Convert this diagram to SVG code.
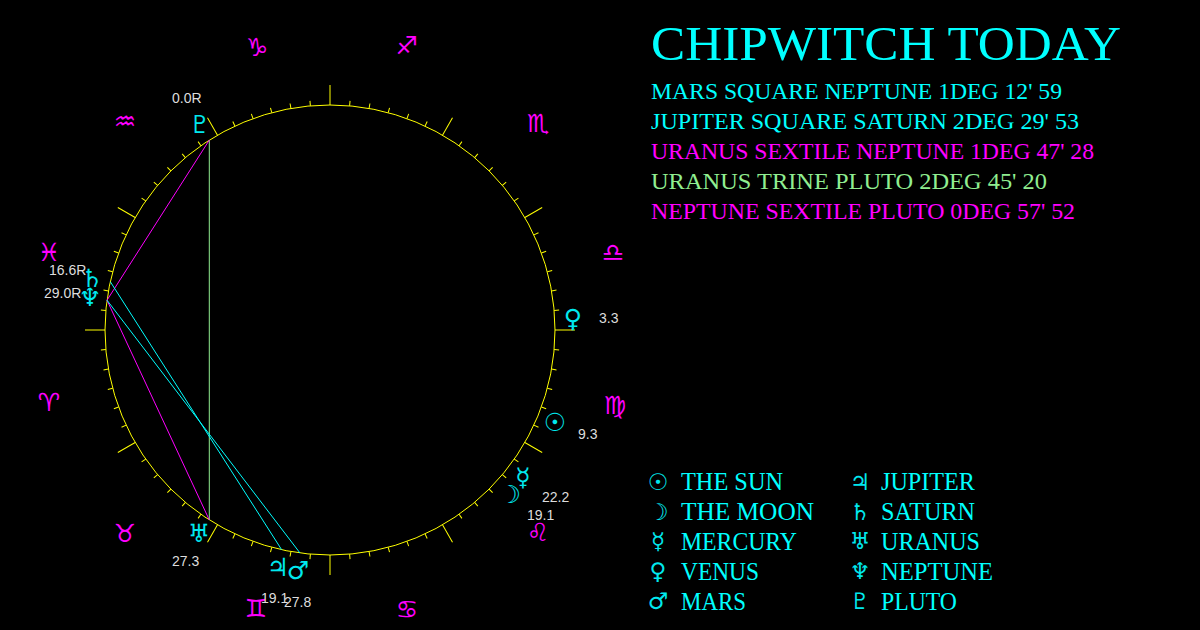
<svg xmlns="http://www.w3.org/2000/svg" xmlns:xlink="http://www.w3.org/1999/xlink" width="1200" height="630" viewBox="0 0 1200 630">
<style>
.wheel{fill:none;stroke:#ffff00;stroke-width:1}
.tick{stroke:#ffff00;stroke-width:1}
.sign{font-family:"DejaVu Sans",sans-serif;font-size:25px;fill:#ff00ff;text-anchor:middle;dominant-baseline:central}
.pl{font-family:"DejaVu Sans",sans-serif;font-size:25px;fill:#00e8ee;text-anchor:middle;dominant-baseline:central}
.deg{font-family:"Liberation Sans",Arial,sans-serif;font-size:14px;fill:#dddddd}
.title{font-family:"Liberation Serif","Times New Roman",serif;font-size:48px;fill:#00ffff}
.asp{font-family:"Liberation Serif","Times New Roman",serif;font-size:23px}
.key{font-family:"Liberation Serif","Times New Roman",serif;font-size:25px;fill:#00ffff}
.keysym{font-family:"DejaVu Sans",sans-serif;font-size:23px;fill:#00e8ee;text-anchor:middle;dominant-baseline:central}
.cy{fill:#00ffff}.mg{fill:#ff00ff}.gr{fill:#90ee90}
.lc{stroke:#00ffff;stroke-width:1}.lm{stroke:#ff00ff;stroke-width:1}.lg{stroke:#90ee90;stroke-width:1}
</style>
<defs>
<g id="seg">
<line class="tick" x1="330" y1="105" x2="330" y2="85"/>
<line class="tick" x1="330" y1="105" x2="330" y2="100" transform="rotate(5 330 330)"/>
<line class="tick" x1="330" y1="105" x2="330" y2="100" transform="rotate(10 330 330)"/>
<line class="tick" x1="330" y1="105" x2="330" y2="100" transform="rotate(15 330 330)"/>
<line class="tick" x1="330" y1="105" x2="330" y2="100" transform="rotate(20 330 330)"/>
<line class="tick" x1="330" y1="105" x2="330" y2="100" transform="rotate(25 330 330)"/>
</g>
</defs>
<rect x="0" y="0" width="1200" height="630" fill="#000000"/>
<g id="wheel">
<circle class="wheel" cx="330" cy="330" r="225"/>
<use xlink:href="#seg"/>
<use xlink:href="#seg" transform="rotate(30 330 330)"/>
<use xlink:href="#seg" transform="rotate(60 330 330)"/>
<use xlink:href="#seg" transform="rotate(90 330 330)"/>
<use xlink:href="#seg" transform="rotate(120 330 330)"/>
<use xlink:href="#seg" transform="rotate(150 330 330)"/>
<use xlink:href="#seg" transform="rotate(180 330 330)"/>
<use xlink:href="#seg" transform="rotate(210 330 330)"/>
<use xlink:href="#seg" transform="rotate(240 330 330)"/>
<use xlink:href="#seg" transform="rotate(270 330 330)"/>
<use xlink:href="#seg" transform="rotate(300 330 330)"/>
<use xlink:href="#seg" transform="rotate(330 330 330)"/>
</g>
<g id="signs">
<text class="sign" x="407" y="45">♐&#xFE0E;</text>
<text class="sign" x="538" y="123">♏&#xFE0E;</text>
<text class="sign" x="613" y="252">♎&#xFE0E;</text>
<text class="sign" x="615" y="405">♍&#xFE0E;</text>
<text class="sign" x="538" y="532">♌&#xFE0E;</text>
<text class="sign" x="407" y="609">♋&#xFE0E;</text>
<text class="sign" x="256" y="608">♊&#xFE0E;</text>
<text class="sign" x="125" y="533">♉&#xFE0E;</text>
<text class="sign" x="49" y="402">♈&#xFE0E;</text>
<text class="sign" x="49" y="252">♓&#xFE0E;</text>
<text class="sign" x="125" y="121">♒&#xFE0E;</text>
<text class="sign" x="257" y="47">♑&#xFE0E;</text>
</g>
<g id="connectors">
<line class="lg" x1="209.3" y1="140.1" x2="209.3" y2="519.9"/>
<line class="lm" x1="209.3" y1="140.1" x2="107" y2="300.2"/>
<line class="lm" x1="209.3" y1="519.9" x2="107" y2="300.2"/>
<line class="lc" x1="300" y1="553" x2="107" y2="300.2"/>
<line class="lc" x1="281.7" y1="549.8" x2="110.3" y2="281.7"/>
</g>
<g id="planet-pluto"><text class="pl" x="200" y="124">♇</text><text class="deg" x="172" y="103">0.0R</text></g>
<g id="planet-saturn"><text class="pl" x="92" y="278">♄</text><text class="deg" x="49" y="275">16.6R</text></g>
<g id="planet-neptune"><text class="pl" x="90" y="297">♆</text><text class="deg" x="44" y="298">29.0R</text></g>
<g id="planet-venus"><text class="pl" x="573" y="318">♀</text><text class="deg" x="599" y="323">3.3</text></g>
<g id="planet-sun"><text class="pl" x="555" y="422">☉</text><text class="deg" x="578" y="439">9.3</text></g>
<g id="planet-mercury"><text class="pl" x="523" y="477">☿</text><text class="deg" x="542" y="502">22.2</text></g>
<g id="planet-moon"><text class="pl" x="510" y="494">☽</text><text class="deg" x="527" y="520">19.1</text></g>
<g id="planet-uranus"><text class="pl" x="199" y="533">♅</text><text class="deg" x="172" y="566">27.3</text></g>
<g id="planet-jupiter"><text class="pl" x="278" y="567">♃</text><text class="deg" x="261" y="603">19.1</text></g>
<g id="planet-mars"><text class="pl" x="298" y="570">♂</text><text class="deg" x="284" y="607">27.8</text></g>
<g id="title"><text class="title" x="651" y="60" textLength="470" lengthAdjust="spacingAndGlyphs">CHIPWITCH TODAY</text></g>
<g id="aspects">
<text class="asp cy" x="651" y="99" textLength="411" lengthAdjust="spacingAndGlyphs">MARS SQUARE NEPTUNE 1DEG 12' 59</text>
<text class="asp cy" x="651" y="129" textLength="428" lengthAdjust="spacingAndGlyphs">JUPITER SQUARE SATURN 2DEG 29' 53</text>
<text class="asp mg" x="651" y="159" textLength="443" lengthAdjust="spacingAndGlyphs">URANUS SEXTILE NEPTUNE 1DEG 47' 28</text>
<text class="asp gr" x="651" y="189" textLength="396" lengthAdjust="spacingAndGlyphs">URANUS TRINE PLUTO 2DEG 45' 20</text>
<text class="asp mg" x="651" y="219" textLength="424" lengthAdjust="spacingAndGlyphs">NEPTUNE SEXTILE PLUTO 0DEG 57' 52</text>
</g>
<g id="legend">
<text class="keysym" x="658" y="482">☉</text><text class="key" x="681" y="490" textLength="102" lengthAdjust="spacingAndGlyphs">THE SUN</text>
<text class="keysym" x="658" y="512">☽</text><text class="key" x="681" y="520" textLength="133" lengthAdjust="spacingAndGlyphs">THE MOON</text>
<text class="keysym" x="658" y="541">☿</text><text class="key" x="681" y="550" textLength="116" lengthAdjust="spacingAndGlyphs">MERCURY</text>
<text class="keysym" x="658" y="571">♀</text><text class="key" x="681" y="580" textLength="78" lengthAdjust="spacingAndGlyphs">VENUS</text>
<text class="keysym" x="658" y="601">♂</text><text class="key" x="681" y="610" textLength="65" lengthAdjust="spacingAndGlyphs">MARS</text>
<text class="keysym" x="860" y="482">♃</text><text class="key" x="881" y="490" textLength="94" lengthAdjust="spacingAndGlyphs">JUPITER</text>
<text class="keysym" x="860" y="512">♄</text><text class="key" x="881" y="520" textLength="94" lengthAdjust="spacingAndGlyphs">SATURN</text>
<text class="keysym" x="860" y="541">♅</text><text class="key" x="881" y="550" textLength="99" lengthAdjust="spacingAndGlyphs">URANUS</text>
<text class="keysym" x="860" y="571">♆</text><text class="key" x="881" y="580" textLength="112" lengthAdjust="spacingAndGlyphs">NEPTUNE</text>
<text class="keysym" x="860" y="601">♇</text><text class="key" x="881" y="610" textLength="76" lengthAdjust="spacingAndGlyphs">PLUTO</text>
</g>
</svg>
